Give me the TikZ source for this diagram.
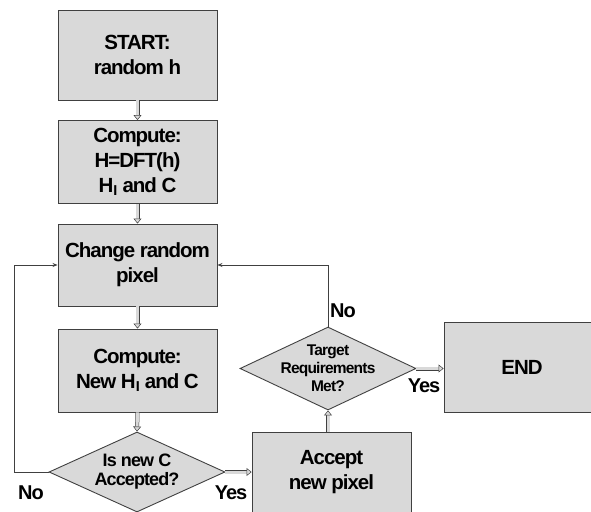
\documentclass[tikz,border=0pt]{standalone}
\usepackage{fontspec}
\setmainfont{Liberation Sans}
\usetikzlibrary{shapes.geometric,arrows.meta}
\definecolor{boxfill}{HTML}{D9D9D9}
\definecolor{boxline}{HTML}{404040}
\newcommand{\tightfont}[2]{\fontsize{#1}{#2}\bfseries\selectfont\addfontfeature{LetterSpace=-5}}
\tikzset{
  x=1pt,y=-1pt,
  procbox/.style={draw=boxline,fill=boxfill,line width=0.9pt,inner sep=0pt,align=center,
     font=\tightfont{20.5}{25}},
  decbox/.style={diamond,draw=boxline,fill=boxfill,line width=0.9pt,inner sep=0pt},
  dectext/.style={align=center,inner sep=0pt},
  flowarrow/.style={draw=boxline,line width=0.5pt,double=boxfill,double distance=3pt,
     -{Triangle[open,fill=boxfill,length=5pt,width=8pt]}},
  backarrow/.style={draw=boxline,line width=0.8pt,-{Stealth[length=5pt,width=4pt]}},
  answer/.style={font=\tightfont{20}{22},inner sep=0pt}
}
\begin{document}
\begin{tikzpicture}
\useasboundingbox (0,0) rectangle (591,511);
\begin{scope}
\clip (0,0) rectangle (591,511);
\node[procbox,minimum width=159,minimum height=90] (start) at (137.5,55) {START:\\random h};
\node[procbox,minimum width=159,minimum height=83] (comp1) at (137.5,162) {Compute:\\H=DFT(h)\\H\textsubscript{I} and C};
\node[procbox,minimum width=159,minimum height=82] (change) at (137.5,265) {Change random\\pixel};
\node[procbox,minimum width=159,minimum height=83] (comp2) at (137.5,370.5) {Compute:\\New H\textsubscript{I} and C};
\node[decbox,minimum width=176,minimum height=80,
  label={[dectext,font=\tightfont{18}{19}]center:Is new C\\Accepted?}] (dec1) at (137,472) {};
\node[procbox,minimum width=159,minimum height=80] (accept) at (331.5,472) {Accept\\new pixel};
\node[decbox,minimum width=176,minimum height=83,
  label={[dectext,font=\tightfont{15.5}{18}]center:Target\\Requirements\\Met?}] (dec2) at (328,368.5) {};
\node[procbox,minimum width=156,minimum height=90] (end) at (522,367) {END};
\end{scope}
\draw[flowarrow] (start.south) -- (comp1.north);
\draw[flowarrow] (comp1.south) -- (change.north);
\draw[flowarrow] (change.south) -- (comp2.north);
\draw[flowarrow] (comp2.south) -- (dec1.north);
\draw[flowarrow] (dec1.east) -- (accept.west |- dec1.east);
\draw[flowarrow] (accept.north -| dec2.south) -- (dec2.south);
\draw[flowarrow] (dec2.east) -- (end.west |- dec2.east);
\coordinate (lc) at (14,265);
\draw[backarrow] (dec1.west) -| (lc) -- (change.west);
\draw[backarrow] (dec2.north) |- (change.east);
\node[answer] (no1) at (31,493) {No};
\node[answer] (yes1) at (231,493) {Yes};
\node[answer] (no2) at (343,311) {No};
\node[answer] (yes2) at (424,386) {Yes};
\end{tikzpicture}
\end{document}
